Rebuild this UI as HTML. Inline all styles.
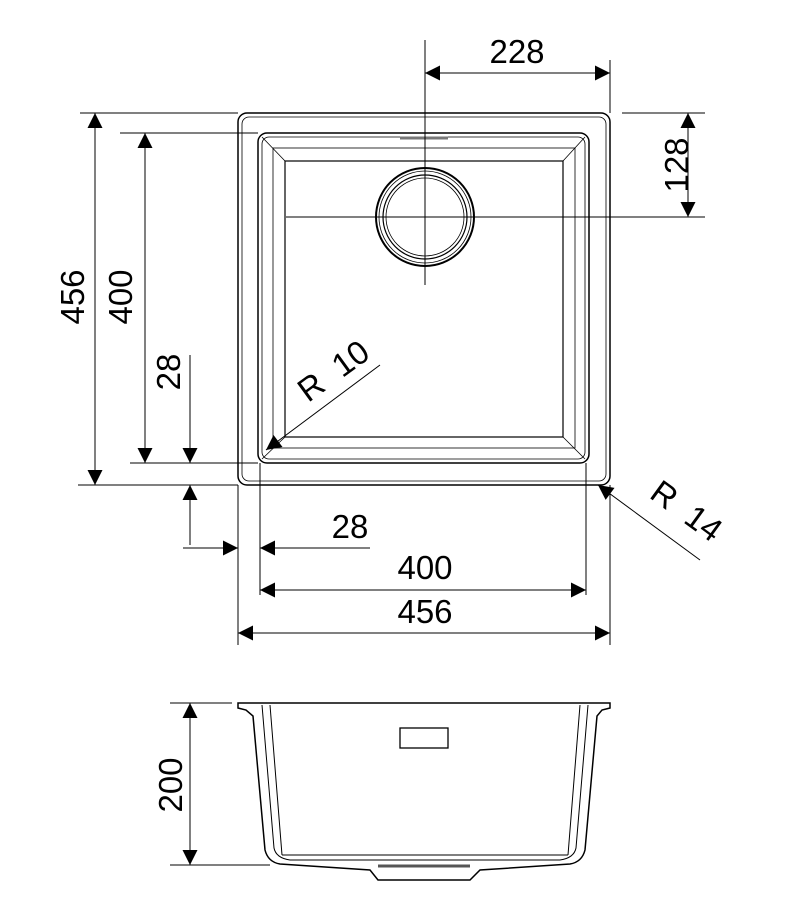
<!DOCTYPE html>
<html><head><meta charset="utf-8"><style>html,body{margin:0;padding:0;background:#fff}svg{display:block}</style></head>
<body>
<svg width="812" height="914" viewBox="0 0 812 914" xmlns="http://www.w3.org/2000/svg" font-family="Liberation Sans, sans-serif" font-size="33" fill="none" stroke="#000">
<defs>
<marker id="a" viewBox="0 0 10 10" refX="10" refY="5" markerWidth="30" markerHeight="15" markerUnits="userSpaceOnUse" orient="auto-start-reverse"><path d="M0,0L10,5L0,10z" fill="#000" stroke="none"/></marker>
</defs>
<rect x="238" y="113" width="372" height="372" rx="9" stroke-width="1.5"/>
<rect x="242" y="117" width="364" height="364" rx="7" stroke-width="0.8"/>
<rect x="258" y="133" width="331" height="330" rx="9" stroke-width="1.5"/>
<rect x="262" y="137" width="323" height="322" rx="7" stroke-width="0.8"/>
<rect x="273" y="148" width="302" height="300" stroke-width="0.8"/>
<rect x="285" y="161" width="278" height="276" stroke-width="1.2"/>
<g stroke-width="0.8"><line x1="262" y1="137" x2="285" y2="161"/><line x1="585" y1="137" x2="563" y2="161"/><line x1="262" y1="459" x2="285" y2="437"/><line x1="585" y1="459" x2="563" y2="437"/></g>
<line x1="400" y1="138" x2="448" y2="138" stroke="#777" stroke-width="3"/>
<circle cx="425" cy="217" r="49" stroke-width="2"/>
<circle cx="425" cy="217" r="46" stroke-width="0.8"/>
<circle cx="425" cy="217" r="42" stroke-width="1.2"/>
<circle cx="425" cy="217" r="39" stroke-width="0.8"/>
<g stroke-width="1">
<line x1="425" y1="40" x2="425" y2="285"/>
<line x1="286" y1="217" x2="705" y2="217"/>
<line x1="610" y1="60" x2="610" y2="113"/>
<line x1="622" y1="113" x2="705" y2="113"/>
<line x1="80" y1="113" x2="238" y2="113"/>
<line x1="78" y1="485" x2="238" y2="485"/>
<line x1="120" y1="133" x2="258" y2="133"/>
<line x1="130" y1="463" x2="258" y2="463"/>
<line x1="238" y1="485" x2="238" y2="645"/>
<line x1="260" y1="463" x2="260" y2="595"/>
<line x1="586" y1="463" x2="586" y2="595"/>
<line x1="610" y1="485" x2="610" y2="645"/>
</g>
<g stroke-width="1" marker-end="url(#a)">
<line x1="425" y1="73" x2="610" y2="73" marker-start="url(#a)"/>
<line x1="688" y1="113" x2="688" y2="217" marker-start="url(#a)"/>
<line x1="95" y1="113" x2="95" y2="485" marker-start="url(#a)"/>
<line x1="145" y1="133" x2="145" y2="463" marker-start="url(#a)"/>
<line x1="190" y1="355" x2="190" y2="463"/>
<line x1="190" y1="545" x2="190" y2="485"/>
<line x1="183" y1="548" x2="238" y2="548"/>
<line x1="370" y1="548" x2="260" y2="548"/>
<line x1="260" y1="590" x2="586" y2="590" marker-start="url(#a)"/>
<line x1="238" y1="633" x2="610" y2="633" marker-start="url(#a)"/>
<line x1="380" y1="365" x2="266" y2="450"/>
<line x1="700" y1="560" x2="598" y2="485"/>
<line x1="190" y1="703" x2="190" y2="865" marker-start="url(#a)"/>
</g>
<g fill="#000" stroke="none">
<text x="517" y="63" text-anchor="middle">228</text>
<text x="425" y="579" text-anchor="middle">400</text>
<text x="425" y="623" text-anchor="middle">456</text>
<text x="350" y="538" text-anchor="middle">28</text>
<text transform="translate(688,165) rotate(-90)" text-anchor="middle">128</text>
<text transform="translate(84,297) rotate(-90)" text-anchor="middle">456</text>
<text transform="translate(132,297) rotate(-90)" text-anchor="middle">400</text>
<text transform="translate(180,372) rotate(-90)" text-anchor="middle">28</text>
<text transform="translate(182,785) rotate(-90)" text-anchor="middle">200</text>
<text transform="translate(340,380) rotate(-36)" text-anchor="middle">R&#160;&#160;10</text>
<text transform="translate(680,520) rotate(36)" text-anchor="middle">R&#160;&#160;14</text>
</g>
<line x1="170" y1="703" x2="232" y2="703" stroke-width="1"/>
<line x1="170" y1="865" x2="270" y2="865" stroke-width="1"/>
<path d="M238,703 L610,703 L610,708 L602,710 L597,716 L585,850 Q582,862 570,864 L480,870 L470,880 L378,880 L370,870 L280,864 Q268,862 265,850 L253,716 L246,710 L238,708 Z" stroke-width="1.5"/>
<path d="M262,705 L274,848 Q276,858 290,860 L560,860 Q574,858 576,848 L588,705" stroke-width="1"/>
<path d="M270,705 L282,855 M580,705 L568,855" stroke-width="1"/>
<line x1="282" y1="855" x2="568" y2="855" stroke-width="1"/>
<rect x="400" y="728" width="48" height="20" stroke-width="1.3"/>
<line x1="378" y1="866" x2="470" y2="866" stroke="#555" stroke-width="3"/>
</svg>
</body></html>
